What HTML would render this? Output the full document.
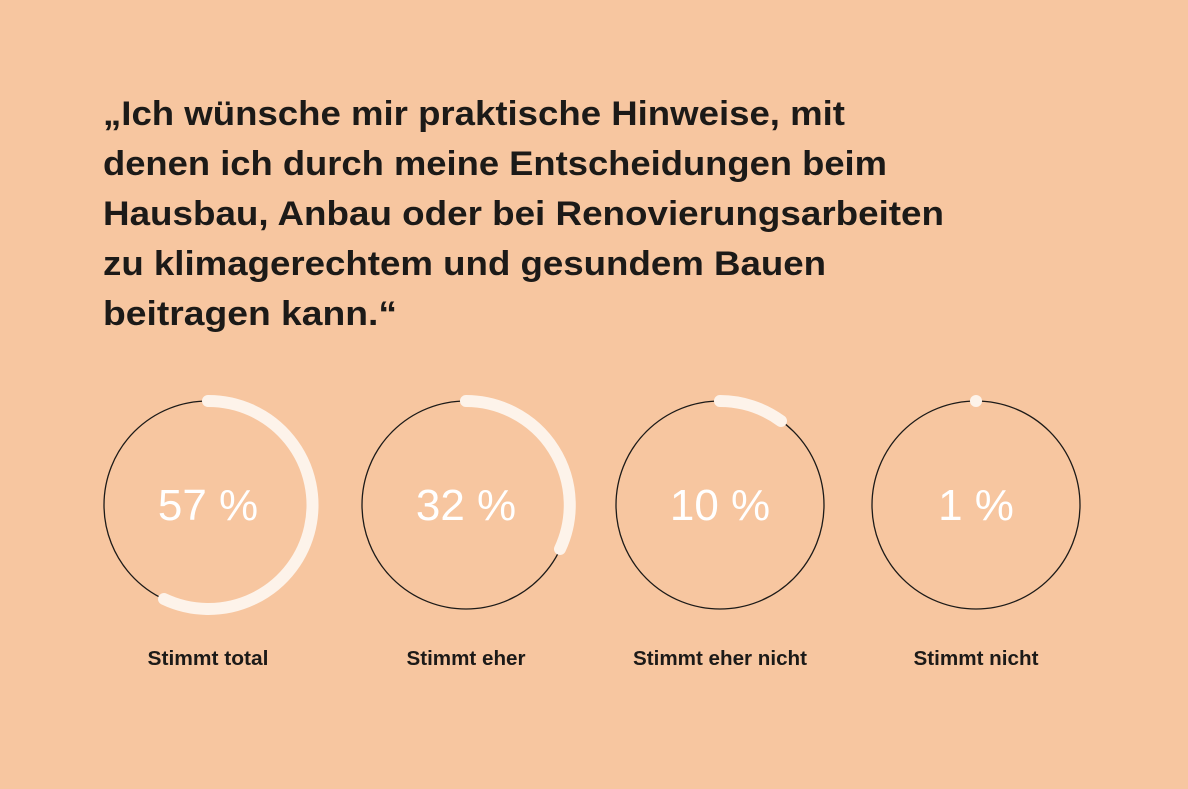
<!DOCTYPE html>
<html><head><meta charset="utf-8"><style>
html,body{margin:0;padding:0;background:#F7C6A0;}
svg{display:block}
</style></head><body>
<svg width="1188" height="789" viewBox="0 0 1188 789" xmlns="http://www.w3.org/2000/svg">
<rect width="1188" height="789" fill="#F7C6A0"/>
<g font-family="Liberation Sans, sans-serif" font-weight="bold" font-size="34" fill="#1c1a18">
<text x="103" y="125" textLength="742" lengthAdjust="spacingAndGlyphs">„Ich wünsche mir praktische Hinweise, mit</text>
<text x="103" y="175" textLength="784" lengthAdjust="spacingAndGlyphs">denen ich durch meine Entscheidungen beim</text>
<text x="103" y="225" textLength="841" lengthAdjust="spacingAndGlyphs">Hausbau, Anbau oder bei Renovierungsarbeiten</text>
<text x="103" y="275" textLength="723" lengthAdjust="spacingAndGlyphs">zu klimagerechtem und gesundem Bauen</text>
<text x="103" y="325" textLength="294" lengthAdjust="spacingAndGlyphs">beitragen kann.“</text>
</g>
<g fill="none" stroke="#1c1a18" stroke-width="1.3">
<circle cx="208" cy="505" r="104"/>
<circle cx="466" cy="505" r="104"/>
<circle cx="720" cy="505" r="104"/>
<circle cx="976" cy="505" r="104"/>
</g>
<g fill="none" stroke="#FDF3EA" stroke-width="12" stroke-linecap="round">
<path d="M208 401 A104 104 0 1 1 164 599"/>
<path d="M466 401 A104 104 0 0 1 560 549"/>
<path d="M720 401 A104 104 0 0 1 781 421"/>
</g>
<circle cx="976" cy="401" r="6" fill="#FDF3EA"/>
<g font-family="Liberation Sans, sans-serif" font-size="44" fill="#FFFFFF" text-anchor="middle">
<text x="208" y="520">57 %</text>
<text x="466" y="520">32 %</text>
<text x="720" y="520">10 %</text>
<text x="976" y="520">1 %</text>
</g>
<g font-family="Liberation Sans, sans-serif" font-weight="bold" font-size="20" fill="#1c1a18" text-anchor="middle">
<text x="208" y="665" textLength="121" lengthAdjust="spacingAndGlyphs">Stimmt total</text>
<text x="466" y="665" textLength="119" lengthAdjust="spacingAndGlyphs">Stimmt eher</text>
<text x="720" y="665" textLength="174" lengthAdjust="spacingAndGlyphs">Stimmt eher nicht</text>
<text x="976" y="665" textLength="125" lengthAdjust="spacingAndGlyphs">Stimmt nicht</text>
</g>
</svg>
</body></html>
